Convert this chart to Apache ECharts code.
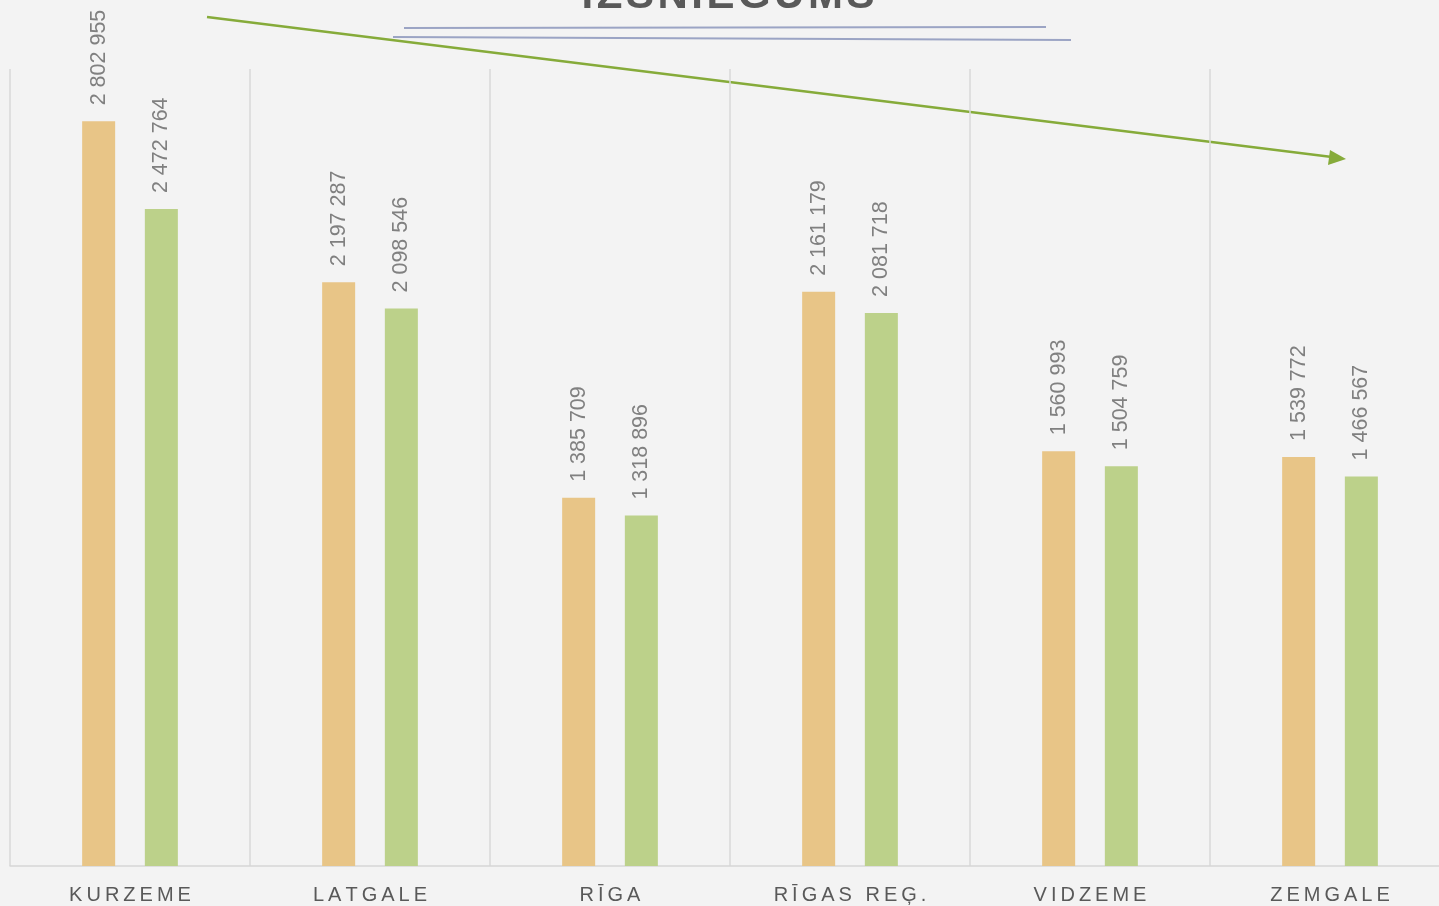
<!DOCTYPE html>
<html>
<head>
<meta charset="utf-8">
<script src="https://cdn.jsdelivr.net/npm/echarts@6/dist/echarts.min.js"></script>
<style>
html, body { margin: 0; padding: 0; background: #f3f3f3; overflow: hidden; }
#main { width: 1450px; height: 906px; }
</style>
</head>
<body>
<div id="main"></div>
<script>
var regions = ['KURZEME', 'LATGALE', 'RĪGA', 'RĪGAS REĢ.', 'VIDZEME', 'ZEMGALE'];
var series1 = [2802955, 2197287, 1385709, 2161179, 1560993, 1539772];
var series2 = [2472764, 2098546, 1318896, 2081718, 1504759, 1466567];
var title = 'IZSNIEGUMS';

function spaced(s, sp) {
    return s.split('').join(sp);
}
function fmt(v) {
    return String(v).replace(/\B(?=(\d{3})+(?!\d))/g, ' ');
}

var myChart = echarts.init(document.getElementById('main'));

var labelOpt = {
    show: true,
    position: 'top',
    rotate: 90,
    align: 'left',
    verticalAlign: 'middle',
    distance: 16,
    color: '#808080',
    fontSize: 21.5,
    fontFamily: 'Liberation Sans',
    formatter: function (p) { return fmt(p.value); }
};

myChart.setOption({
    backgroundColor: '#f3f3f3',
    animation: false,
    grid: {
        left: 10,
        top: 69,
        bottom: 40,
        right: 0,
        containLabel: false
    },
    xAxis: {
        type: 'category',
        data: regions,
        axisLine: { lineStyle: { color: '#d6d6d6', width: 1.5 } },
        axisTick: { show: false },
        splitLine: { show: true, lineStyle: { color: '#d9d9d9', width: 1.5 } },
        axisLabel: {
            color: '#595959',
            fontSize: 20,
            fontFamily: 'Liberation Sans',
            margin: 19,
            formatter: function (v) { return spaced(v, '\u2009'); }
        }
    },
    yAxis: {
        type: 'value',
        min: 0,
        max: 3000000,
        show: false,
        splitLine: { show: false }
    },
    series: [{
        name: 'Sērija 1',
        type: 'bar',
        data: series1,
        barWidth: 33,
        barGap: '90%',
        itemStyle: { color: '#e8c587' },
        label: labelOpt
    }, {
        name: 'Sērija 2',
        type: 'bar',
        data: series2,
        barWidth: 33,
        itemStyle: { color: '#bcd18a' },
        label: labelOpt
    }],
    graphic: [{
        type: 'text',
        x: 728,
        y: 17,
        style: {
            text: spaced(title, '\u200A'),
            fill: '#595959',
            font: 'bold 42px "Liberation Sans"',
            textAlign: 'center',
            textVerticalAlign: 'bottom'
        }
    }, {
        type: 'line',
        shape: { x1: 404, y1: 28, x2: 1046, y2: 27 },
        style: { stroke: '#9ba4c4', lineWidth: 2 }
    }, {
        type: 'line',
        shape: { x1: 393, y1: 37, x2: 1071, y2: 40 },
        style: { stroke: '#9ba4c4', lineWidth: 2 }
    }, {
        type: 'line',
        shape: { x1: 207, y1: 17, x2: 1332, y2: 157 },
        style: { stroke: '#86ab3a', lineWidth: 2.5 }
    }, {
        type: 'polygon',
        shape: { points: [[1346, 159], [1330, 150], [1328, 165]] },
        style: { fill: '#86ab3a' }
    }]
});
</script>
</body>
</html>
